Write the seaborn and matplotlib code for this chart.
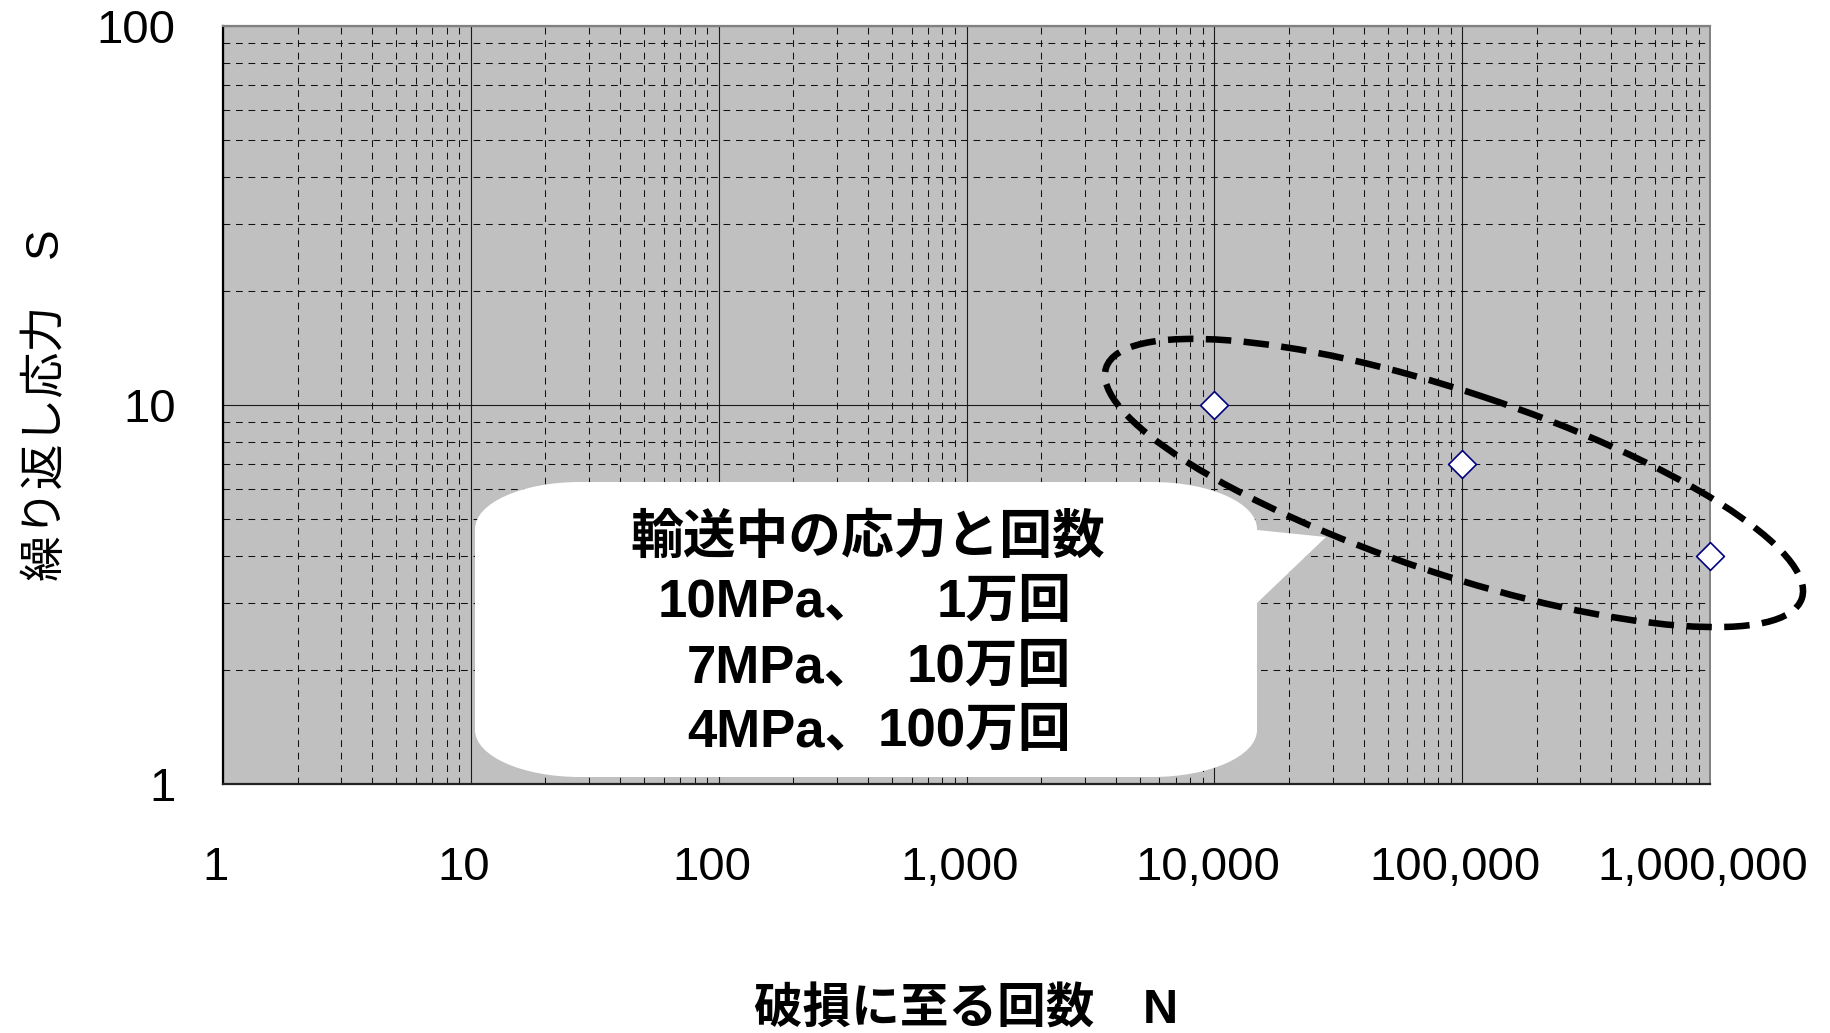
import numpy as np
import matplotlib
matplotlib.use("Agg")
import matplotlib.pyplot as plt
import seaborn as sns
from matplotlib.patches import Ellipse, PathPatch
from matplotlib.path import Path
from matplotlib.transforms import Affine2D, ScaledTranslation
from matplotlib.ticker import LogLocator, NullFormatter

# S-N data: cycles to failure and repeated stress (MPa)
cycles = [10000, 100000, 1000000]
stress = [10, 7, 4]

x_ticks = [1, 10, 100, 1000, 10000, 100000, 1000000]
x_tick_labels = ["1", "10", "100", "1,000", "10,000", "100,000", "1,000,000"]
y_ticks = [1, 10, 100]
y_tick_labels = ["1", "10", "100"]

x_label = "破損に至る回数　N"
y_label = "繰り返し応力　S"
callout_title = "輸送中の応力と回数"

sns.set_theme(style="white")
plt.rcParams["font.family"] = ["Liberation Sans", "Noto Sans CJK JP", "DejaVu Sans"]
plt.rcParams["text.color"] = "black"
plt.rcParams["axes.labelcolor"] = "black"

W, H = 1830, 1033
fig = plt.figure(figsize=(W / 100, H / 100), dpi=100)
fig.patch.set_facecolor("white")

# plot frame in pixels (left, top, right, bottom)
L_, T_, R_, B_ = 223, 26, 1710, 784
ax = fig.add_axes([L_ / W, 1 - B_ / H, (R_ - L_) / W, (B_ - T_) / H])
ax.set_facecolor("#c0c0c0")
ax.set_xscale("log")
ax.set_yscale("log")

sns.scatterplot(x=cycles, y=stress, ax=ax, marker="D", s=200,
                color="white", edgecolor="#000080", linewidth=1.2,
                clip_on=False, zorder=6, legend=False)

ax.set_xlim(1, 1e6)
ax.set_ylim(1, 100)

# grid: solid decades, dashed subdivisions
for axis in (ax.xaxis, ax.yaxis):
    axis.set_minor_locator(LogLocator(base=10, subs=np.arange(2, 10)))
    axis.set_minor_formatter(NullFormatter())
ax.set_axisbelow(True)
ax.grid(which="major", color="#1a1a1a", lw=0.8, ls="-")
ax.grid(which="minor", color="#111111", lw=0.75, ls=(0, (6.5, 5.5)))

ax.set_xticks(x_ticks, labels=x_tick_labels)
ax.set_yticks(y_ticks, labels=y_tick_labels)
ax.tick_params(axis="both", which="both", length=0)
ax.tick_params(axis="x", which="major", labelsize=34, pad=45, colors="black")
ax.tick_params(axis="y", which="major", labelsize=34, pad=34, colors="black")
shift = ScaledTranslation(-7 / 100, 0, fig.dpi_scale_trans)
for lab in ax.get_xticklabels():
    lab.set_transform(lab.get_transform() + shift)

for side, col, lw in (("left", "#000000", 1.6), ("bottom", "#222222", 1.6),
                      ("top", "#808080", 1.6), ("right", "#808080", 1.4)):
    ax.spines[side].set_color(col)
    ax.spines[side].set_linewidth(lw)

ax.set_xlabel(x_label, fontsize=35, fontweight="bold", color="black")
ax.xaxis.set_label_coords(0.5, (B_ - 1010) / (B_ - T_))
ax.xaxis.label.set_va("center")
ax.set_ylabel(y_label, fontsize=33, color="black")
ax.yaxis.set_label_coords((47 - L_) / (R_ - L_), 0.5)
ax.yaxis.label.set_va("center")

# pixel coordinates measured from the top-left of the figure
px = Affine2D().scale(1 / W, -1 / H).translate(0, 1) + fig.transFigure

# speech-bubble callout
bl, bt, br, bb = 475, 482, 1257, 777
rx, ry = 105, 47
k = 0.5523
wedge_top, wedge_bot, tip = 530, 603, (1326, 537)
verts = [
    (bl + rx, bt), (br - rx, bt),
    (br - rx + k * rx, bt), (br, bt + ry - k * ry), (br, bt + ry),
    (br, wedge_top), tip, (br, wedge_bot), (br, bb - ry),
    (br, bb - ry + k * ry), (br - rx + k * rx, bb), (br - rx, bb),
    (bl + rx, bb),
    (bl + rx - k * rx, bb), (bl, bb - ry + k * ry), (bl, bb - ry),
    (bl, bt + ry),
    (bl, bt + ry - k * ry), (bl + rx - k * rx, bt), (bl + rx, bt),
    (bl + rx, bt),
]
codes = [
    Path.MOVETO, Path.LINETO,
    Path.CURVE4, Path.CURVE4, Path.CURVE4,
    Path.LINETO, Path.LINETO, Path.LINETO, Path.LINETO,
    Path.CURVE4, Path.CURVE4, Path.CURVE4,
    Path.LINETO,
    Path.CURVE4, Path.CURVE4, Path.CURVE4,
    Path.LINETO,
    Path.CURVE4, Path.CURVE4, Path.CURVE4,
    Path.CLOSEPOLY,
]
bubble = PathPatch(Path(verts, codes), facecolor="white", edgecolor="none",
                   transform=px, zorder=4, clip_on=False)
fig.add_artist(bubble)

# callout text built from the data
txt_kw = dict(transform=px, fontsize=38, fontweight="bold", color="black",
              va="center", zorder=7)
fig.text(868, 539, callout_title, ha="center", **txt_kw)
line_y = [603, 668, 732]
for s, n, yy in zip(stress, cycles, line_y):
    fig.text(877, yy, f"{s}MPa、", ha="right", **txt_kw)
    fig.text(1071, yy, f"{n // 10000}万回", ha="right", **txt_kw)

# dashed ellipse grouping the three points
ell = Ellipse((1454, 483), width=733, height=182, angle=18.35,
              facecolor="none", edgecolor="black", lw=4.7,
              ls=(0, (3.9, 1.9)), transform=px, zorder=8, clip_on=False)
fig.add_artist(ell)

fig.savefig("out.png", dpi=100, facecolor="white")
